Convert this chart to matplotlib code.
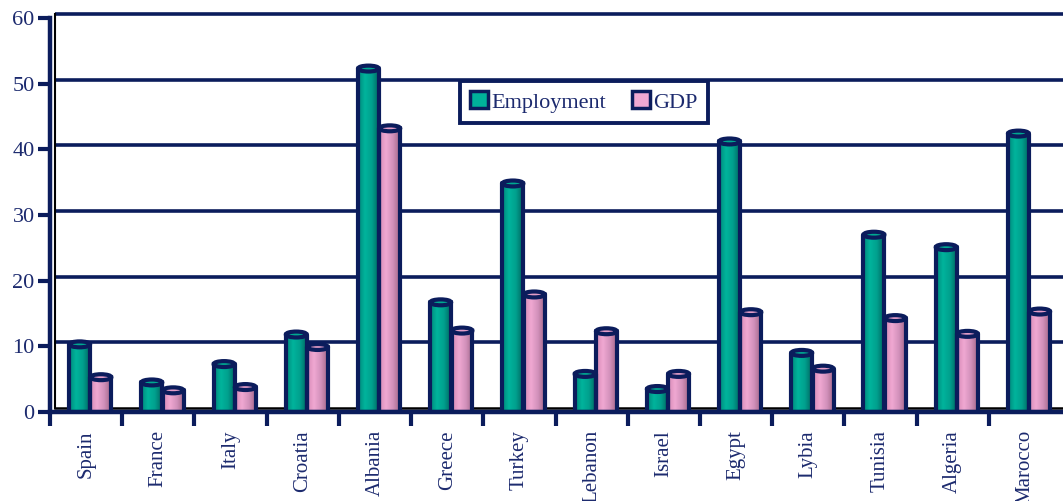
import numpy as np
import matplotlib
matplotlib.use("Agg")
import matplotlib.pyplot as plt
from matplotlib.patches import Rectangle, Ellipse
from matplotlib.colors import LinearSegmentedColormap
import matplotlib.transforms as mtransforms

countries = ["Spain", "France", "Italy", "Croatia", "Albania", "Greece", "Turkey",
             "Lebanon", "Israel", "Egypt", "Lybia", "Tunisia", "Algeria", "Marocco"]
employment = [10.3, 4.5, 7.3, 11.8, 52.3, 16.7, 34.8, 5.8, 3.5, 41.2, 9.0, 27.0, 25.1, 42.4]
gdp = [5.3, 3.3, 3.8, 9.9, 43.2, 12.4, 17.9, 12.3, 5.8, 15.2, 6.6, 14.3, 11.9, 15.3]
yticks = [0, 10, 20, 30, 40, 50, 60]

NAVY = "#0b1c5c"
TXT = "#1c2a6e"
plt.rcParams["font.family"] = ["Liberation Serif", "DejaVu Serif"]

fig = plt.figure(figsize=(10.63, 5.01), dpi=100)
ax = fig.add_axes([50/1063, 1-412/501, 1011/1063, 394/501])
ax.set_xlim(-0.5, len(countries) - 0.5)
ax.set_ylim(0, 60)

teal_cmap = LinearSegmentedColormap.from_list("teal", ["#00877a", "#00b49c", "#00a08e", "#006a62"])
pink_cmap = LinearSegmentedColormap.from_list("pink", ["#d68ab6", "#f0a8d2", "#d291bb", "#a4678a"])
grad = np.linspace(0, 1, 64).reshape(1, -1)

# gridlines in back plane (slightly offset upward)
off = mtransforms.ScaledTranslation(0.05, 0.04, fig.dpi_scale_trans)
for v in yticks[1:]:
    ax.plot([0, 1], [v, v], color=NAVY, lw=2.6, transform=ax.get_yaxis_transform() + off,
            zorder=1, clip_on=False, solid_capstyle="butt")
# back wall / floor black lines
ax.plot([0.0, 0.0], [0, 1], color="black", lw=1.5, transform=ax.transAxes + off, zorder=1.5, clip_on=False)
ax.plot([0.0, 1], [0, 0], color="black", lw=1.8, transform=ax.transAxes + off, zorder=1.5, clip_on=False)

width = 0.29
offsets = [-0.09, 0.205]
series = [(employment, teal_cmap, "#00a890"), (gdp, pink_cmap, "#e39cc6")]
for (vals, cmap, capc), dx in zip(series, offsets):
    for i, v in enumerate(vals):
        x0 = i + dx - width / 2
        ax.imshow(grad, extent=[x0, x0 + width, 0, v], aspect="auto", cmap=cmap,
                  zorder=3, interpolation="bilinear")
        ax.add_patch(Rectangle((x0, 0), width, v, facecolor="none", edgecolor=NAVY,
                               lw=3, zorder=4, joinstyle="round"))
        ax.add_patch(Ellipse((x0 + width / 2, v), width, 0.9, facecolor=capc,
                             edgecolor=NAVY, lw=3, zorder=5))

ax.set_xlim(-0.5, len(countries) - 0.5)
ax.set_ylim(0, 60)

for s in ["top", "right"]:
    ax.spines[s].set_visible(False)
for s in ["left", "bottom"]:
    ax.spines[s].set_color(NAVY)
    ax.spines[s].set_linewidth(3.2)
ax.spines["bottom"].set_zorder(6)

ax.set_yticks(yticks)
ax.set_yticklabels([str(t) for t in yticks], fontsize=16, color=TXT)
ax.tick_params(axis="y", length=9, width=3, color=NAVY, pad=2)

ax.set_xticks(np.arange(len(countries)))
ax.set_xticklabels(countries, rotation=90, fontsize=15, color=TXT, va="top")
ax.tick_params(axis="x", which="major", length=0, pad=13)
ax.set_xticks(np.arange(len(countries)) - 0.5, minor=True)
ax.tick_params(axis="x", which="minor", length=10, width=3, color=NAVY)

handles = [Rectangle((0, 0), 1, 1, facecolor="#00b09a", edgecolor=NAVY, lw=2.5),
           Rectangle((0, 0), 1, 1, facecolor="#f0a8d2", edgecolor=NAVY, lw=2.5)]
leg = ax.legend(handles, ["Employment", "GDP"], loc="center", bbox_to_anchor=(0.528, 0.787),
                ncol=2, fontsize=16, frameon=True, fancybox=False, handlelength=0.8,
                handleheight=0.8, handletextpad=0.15, columnspacing=1.2, borderpad=0.45,
                framealpha=1)
for t in leg.get_texts():
    t.set_color(TXT)
leg.get_frame().set_edgecolor(NAVY)
leg.get_frame().set_linewidth(2.8)
leg.set_zorder(7)

fig.savefig("out.png", dpi=100)
